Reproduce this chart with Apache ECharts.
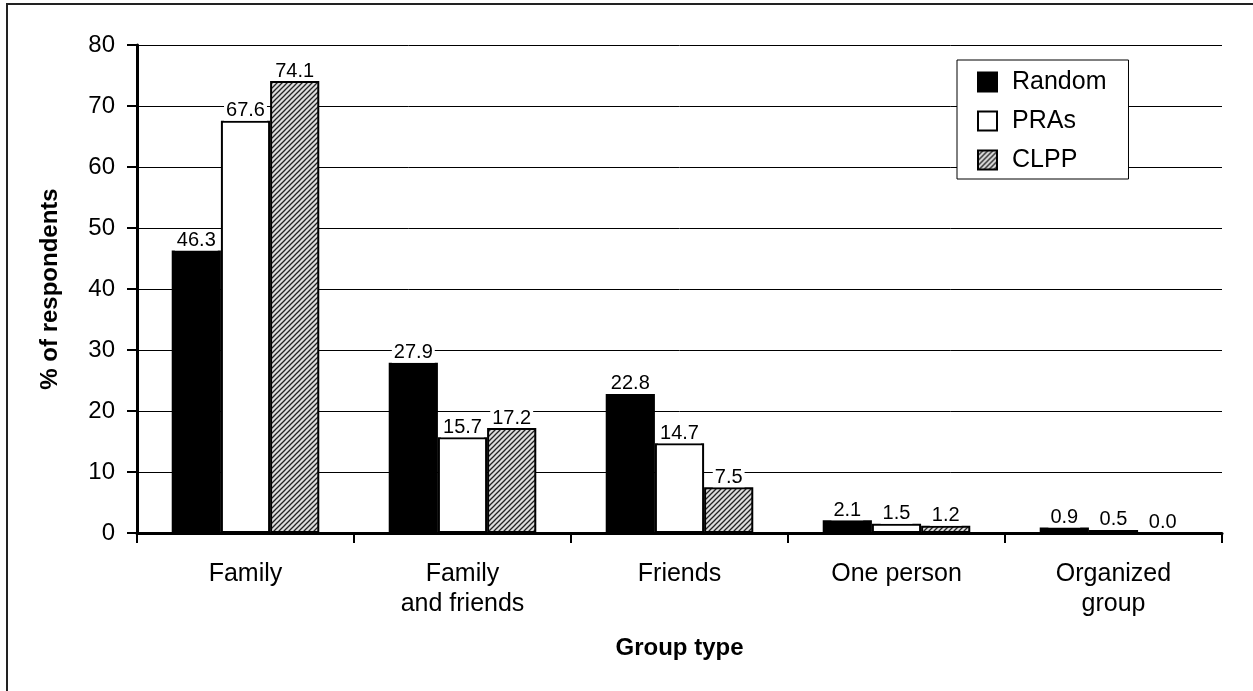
<!DOCTYPE html>
<html>
<head>
<meta charset="utf-8">
<style>
  html, body { margin: 0; padding: 0; background: #fff; }
  #chart { width: 1253px; height: 691px; }
</style>
<script src="https://cdn.jsdelivr.net/npm/echarts@6/dist/echarts.min.js"></script>
</head>
<body>
<div id="chart"></div>
<script>
const categories = ['Family', 'Family\nand friends', 'Friends', 'One person', 'Organized\ngroup'];
const randomValues = [46.3, 27.9, 22.8, 2.1, 0.9];
const praValues = [67.6, 15.7, 14.7, 1.5, 0.5];
const clppValues = [74.1, 17.2, 7.5, 1.2, 0.0];
const seriesNames = ['Random', 'PRAs', 'CLPP'];

// Diagonal hatch tile for the CLPP bars
function hatchPattern() {
  const c = document.createElement('canvas');
  c.width = 5; c.height = 5;
  const g = c.getContext('2d');
  g.fillStyle = '#dcdcdc';
  g.fillRect(0, 0, 5, 5);
  g.strokeStyle = '#222';
  g.lineWidth = 1.3;
  g.beginPath();
  g.moveTo(-1, 6); g.lineTo(6, -1);
  g.moveTo(-4, 4); g.lineTo(4, -4);
  g.moveTo(1, 9); g.lineTo(9, 1);
  g.stroke();
  return c;
}

const font = "'Liberation Sans', Arial, sans-serif";
const chart = echarts.init(document.getElementById('chart'), null, { renderer: 'canvas' });

const labelStyle = {
  show: true,
  position: 'top',
  distance: 0,
  color: '#000',
  fontFamily: font,
  fontSize: 20,
  lineHeight: 20,
  backgroundColor: '#fff',
  padding: [0, 2, 0, 2],
  formatter: p => p.value.toFixed(1)
};

function barSeries(name, data, color) {
  return {
    name: name,
    type: 'bar',
    data: data,
    barGap: '0%',
    barCategoryGap: '32%',
    itemStyle: { color: color, borderColor: '#000', borderWidth: 2 },
    label: labelStyle,
    emphasis: { disabled: true }
  };
}

chart.setOption({
  animation: false,
  backgroundColor: '#fff',
  graphic: [{
    type: 'rect',
    shape: { x: 7, y: 4, width: 1400, height: 800 },
    style: { fill: 'none', stroke: '#222', lineWidth: 2 },
    z: -1
  }],
  grid: { left: 137, right: 31, top: 45, bottom: 158 },
  legend: {
    data: seriesNames.map(n => ({ name: n, icon: 'rect' })),
    orient: 'vertical',
    left: 957,
    top: 60,
    itemWidth: 19,
    itemHeight: 19,
    itemGap: 13,
    padding: [9, 22, 6, 20],
    borderColor: '#000',
    borderWidth: 1,
    backgroundColor: '#fff',
    textStyle: { fontFamily: font, fontSize: 25, lineHeight: 26, color: '#000', padding: [0, 0, 0, 10] },
    itemStyle: { borderColor: '#000', borderWidth: 2 }
  },
  xAxis: {
    type: 'category',
    data: categories,
    name: 'Group type',
    nameLocation: 'middle',
    nameGap: 103,
    nameTextStyle: { fontFamily: font, fontSize: 24, fontWeight: 'bold', color: '#000' },
    axisLine: { lineStyle: { color: '#000', width: 3 } },
    axisTick: { show: true, length: 10, lineStyle: { color: '#000', width: 2 } },
    axisLabel: { fontFamily: font, fontSize: 25, color: '#000', margin: 26, lineHeight: 30 }
  },
  yAxis: {
    type: 'value',
    min: 0,
    max: 80,
    interval: 10,
    name: '% of respondents',
    nameLocation: 'middle',
    nameGap: 75,
    nameRotate: 90,
    nameTextStyle: { fontFamily: font, fontSize: 24, fontWeight: 'bold', color: '#000' },
    axisLine: { show: true, lineStyle: { color: '#000', width: 3 } },
    axisTick: { show: true, length: 10, lineStyle: { color: '#000', width: 2 } },
    axisLabel: { fontFamily: font, fontSize: 24, color: '#000', margin: 22 },
    splitLine: { lineStyle: { color: '#000', width: 1 } }
  },
  series: [
    barSeries('Random', randomValues, '#000'),
    barSeries('PRAs', praValues, '#fff'),
    barSeries('CLPP', clppValues, { image: hatchPattern(), repeat: 'repeat' })
  ]
});
</script>
</body>
</html>
